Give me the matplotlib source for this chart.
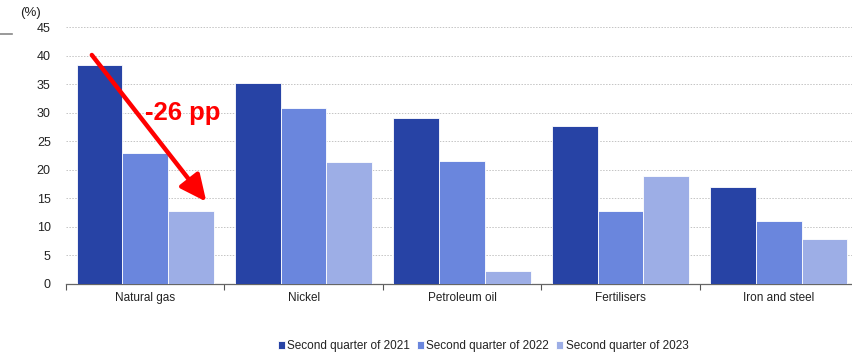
import matplotlib
matplotlib.use("Agg")
import matplotlib.pyplot as plt
import numpy as np
from matplotlib.lines import Line2D

categories = ["Natural gas", "Nickel", "Petroleum oil", "Fertilisers", "Iron and steel"]
series_names = ["Second quarter of 2021", "Second quarter of 2022", "Second quarter of 2023"]
q2_2021 = [38.3, 35.2, 29.1, 27.7, 16.9]
q2_2022 = [22.9, 30.8, 21.5, 12.7, 11.0]
q2_2023 = [12.8, 21.4, 2.2, 18.9, 7.9]
colors = ["#2743A5", "#6A86DD", "#9DAEE6"]
yticks = [0, 5, 10, 15, 20, 25, 30, 35, 40, 45]

plt.rcParams['font.family'] = ['Liberation Sans', 'DejaVu Sans']

W, H = 852, 353
fig = plt.figure(figsize=(W / 100, H / 100), dpi=100)
ax = fig.add_axes([66 / W, (H - 284) / H, (858 - 66) / W, (284 - 27) / H])

x = np.arange(len(categories))
bw = 0.289
for i, (vals, name) in enumerate(zip([q2_2021, q2_2022, q2_2023], series_names)):
    ax.bar(x + (i - 1) * bw, vals, width=bw, color=colors[i], label=name,
           edgecolor="white", linewidth=0.6, zorder=3)

ax.set_xlim(-0.5, len(categories) - 0.5)
ax.set_ylim(0, 45)
ax.set_yticks(yticks)
ax.set_yticklabels([str(v) for v in yticks], fontsize=9, color="#222222")
ax.yaxis.grid(True, color="#C4C4C4", linestyle=(0, (1.5, 1.5)), linewidth=0.7, zorder=0)
ax.tick_params(axis="y", length=0, pad=11)

ax.set_xticks(x)
ax.set_xticklabels(categories, fontsize=8.5, color="#222222")
ax.set_xticks(np.arange(-0.5, len(categories) + 0.5, 1), minor=True)
ax.tick_params(axis="x", which="major", length=0, pad=6)
ax.tick_params(axis="x", which="minor", length=4, color="#555555", width=0.8)

for s in ["left", "right", "top"]:
    ax.spines[s].set_visible(False)
ax.spines["bottom"].set_color("#666666")
ax.spines["bottom"].set_linewidth(0.9)

# annotation arrow
ax.annotate("", xy=(0.386, 14.4), xytext=(-0.337, 40.1),
            arrowprops=dict(arrowstyle="-|>,head_length=1.6,head_width=0.75",
                            color="#FF0000", lw=3.2, shrinkA=0, shrinkB=0), zorder=5)
ax.text(0.0, 29.9, "-26 pp", color="#FF0000", fontsize=18.5, fontweight="bold",
        ha="left", va="center", zorder=6)

fig.text(20 / W, (H - 13) / H, "(%)", fontsize=9.5, color="#222222", ha="left", va="center")
fig.add_artist(Line2D([0, 12 / W], [(H - 34) / H, (H - 34) / H], color="#888888", lw=1.2,
                      transform=fig.transFigure))

leg = fig.legend(loc="center", bbox_to_anchor=(483 / W, (H - 346) / H), ncol=3,
                 frameon=False, fontsize=8.5, handlelength=0.6, handleheight=0.6,
                 handletextpad=0.2, columnspacing=0.6)
for t in leg.get_texts():
    t.set_color("#222222")

fig.savefig("out.png", dpi=100)
